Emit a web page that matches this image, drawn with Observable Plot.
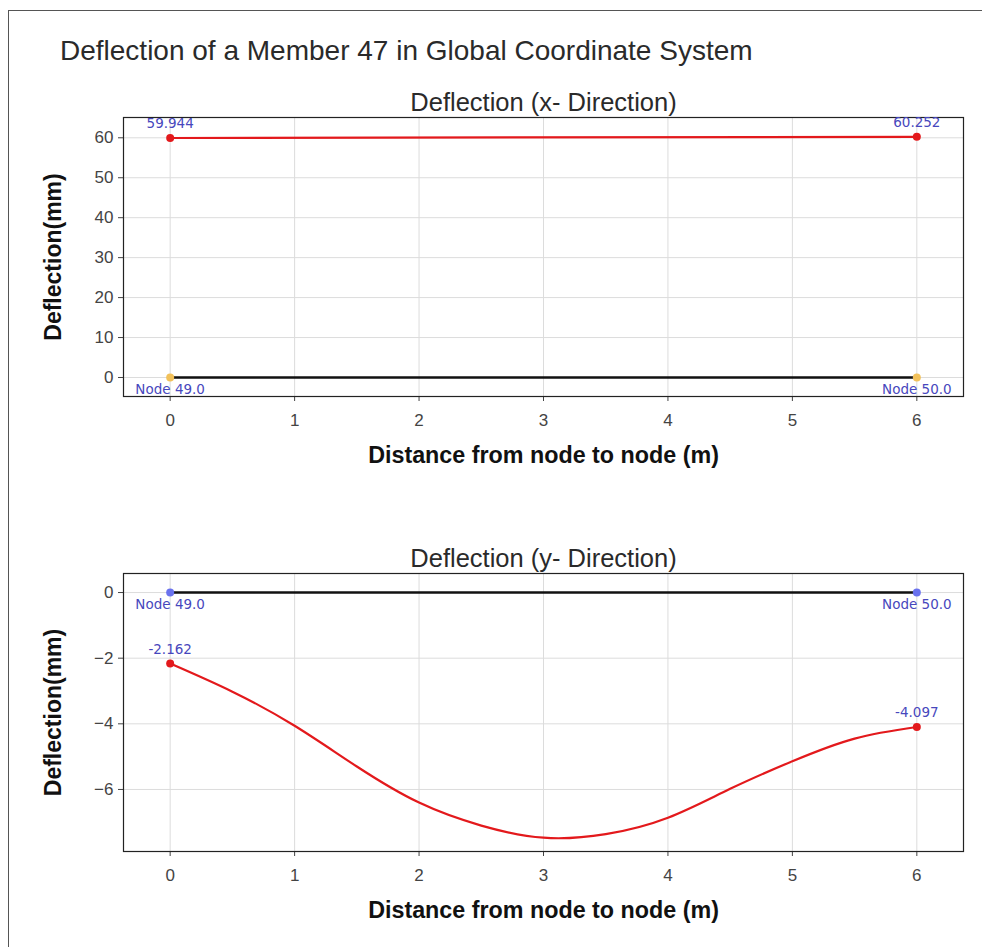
<!DOCTYPE html>
<html>
<head>
<meta charset="utf-8">
<script src="https://cdn.jsdelivr.net/npm/d3@7"></script>
<script src="https://cdn.jsdelivr.net/npm/@observablehq/plot@0.6"></script>
<style>
  html, body { margin: 0; padding: 0; background: #fff; overflow: hidden; }
  #wrap { position: relative; width: 982px; height: 947px; overflow: hidden; }
  #border { position: absolute; left: 8px; top: 10px; width: 1200px; height: 1200px; border: 1px solid #555; box-sizing: border-box; }
  #title { position: absolute; left: 60px; top: 37px; font-family: "Liberation Sans", Arial, sans-serif; font-size: 28px; line-height: 28px; color: #2a2a2a; white-space: nowrap; }
  .panel { position: absolute; left: 0; }
</style>
</head>
<body>
<div id="wrap">
  <div id="border"></div>
  <div id="title">Deflection of a Member 47 in Global Coordinate System</div>
  <div id="p1" class="panel" style="top:80px"></div>
  <div id="p2" class="panel" style="top:530px"></div>
</div>
<script>
// ---- data ----
const chartTitle = "Deflection of a Member 47 in Global Coordinate System";
const panelTitles = ["Deflection (x- Direction)", "Deflection (y- Direction)"];
const xLabel = "Distance from node to node (m)";
const yLabel = "Deflection(mm)";
const xTicks = [0, 1, 2, 3, 4, 5, 6];
const yTicksTop = [0, 10, 20, 30, 40, 50, 60];
const yTicksBottom = [0, -2, -4, -6];
const nodeX = [0, 6];
const nodeLabels = ["Node 49.0", "Node 50.0"];
const memberBase = [0, 0];
const defXValues = [59.944, 60.252];
const defXLabels = ["59.944", "60.252"];
const defYDist = [0, 0.5, 1, 1.5, 2, 2.5, 3, 3.5, 4, 4.5, 5, 5.5, 6];
const defYValues = [-2.162, -3.02, -4.06, -5.30, -6.40, -7.10, -7.47, -7.36, -6.86, -5.98, -5.14, -4.45, -4.097];
const defYEndLabels = ["-2.162", "-4.097"];

// ---- styles ----
const RED = "#e3191c";
const LABEL_BLUE = "#4747bd";
const FONT = "'Liberation Sans', Arial, sans-serif";
const LFONT = "'DejaVu Sans', Verdana, sans-serif";

const base = nodeX.map((x, i) => ({x, y: memberBase[i], label: nodeLabels[i]}));

function panel({yDomain, yTicks, title, lineData, endPts, nodeColor, width = 982, height, marginTop, marginBottom, curve}) {
  return Plot.plot({
    width, height, marginTop, marginBottom, marginLeft: 123, marginRight: 19,
    style: {fontFamily: FONT, fontSize: "17px", background: "transparent", overflow: "visible", color: "#444"},
    x: {domain: [-0.375, 6.375]},
    y: {domain: yDomain},
    marks: [
      Plot.gridX(xTicks, {stroke: "#dcdcdc", strokeOpacity: 1}),
      Plot.gridY(yTicks, {stroke: "#dcdcdc", strokeOpacity: 1}),
      Plot.axisX(xTicks, {tickSize: 5, tickPadding: 12, fontSize: 17, color: "#444", label: null, tickFormat: d => String(d)}),
      Plot.axisY(yTicks, {tickSize: 5, tickPadding: 5, fontSize: 17, color: "#444", label: null, tickFormat: d => d < 0 ? "\u2212" + Math.abs(d) : String(d)}),
      Plot.frame({stroke: "#222", strokeWidth: 1.2}),
      Plot.line(base, {x: "x", y: "y", stroke: "#111", strokeWidth: 2.6}),
      Plot.dot(base, {x: "x", y: "y", r: 4, fill: nodeColor, stroke: null}),
      Plot.line(lineData, {x: "x", y: "y", stroke: RED, strokeWidth: 2.2, curve}),
      Plot.dot(endPts, {x: "x", y: "y", r: 4, fill: RED, stroke: null}),
      Plot.text(endPts, {x: "x", y: "y", text: "label", dy: -14, fill: LABEL_BLUE, fontFamily: LFONT, fontSize: 13.5}),
      Plot.text(base, {x: "x", y: "y", text: "label", dy: 12, fill: LABEL_BLUE, fontFamily: LFONT, fontSize: 13.5}),
      Plot.text([title], {frameAnchor: "top", dy: -15, textAnchor: "middle", lineAnchor: "middle", fontSize: 25.5, fill: "#2a2a2a", fontFamily: FONT}),
      Plot.text([xLabel], {frameAnchor: "bottom", dy: 59, textAnchor: "middle", lineAnchor: "middle", fontSize: 23.3, fontWeight: "bold", fill: "#111", fontFamily: FONT}),
      Plot.text([yLabel], {frameAnchor: "left", dx: -70, rotate: -90, textAnchor: "middle", lineAnchor: "middle", fontSize: 23, fontWeight: "bold", fill: "#111", fontFamily: FONT})
    ]
  });
}

const topLine = nodeX.map((x, i) => ({x, y: defXValues[i]}));
const topEnds = nodeX.map((x, i) => ({x, y: defXValues[i], label: defXLabels[i]}));
const botLine = defYDist.map((x, i) => ({x, y: defYValues[i]}));
const botEnds = nodeX.map((x, i) => ({x, y: defYValues[i === 0 ? 0 : defYValues.length - 1], label: defYEndLabels[i]}));

document.getElementById("p1").append(panel({
  yDomain: [-4.76, 65.08], yTicks: yTicksTop, title: panelTitles[0],
  lineData: topLine, endPts: topEnds, nodeColor: "#f2c15a",
  height: 400, marginTop: 37, marginBottom: 84, curve: "linear"
}));
document.getElementById("p2").append(panel({
  yDomain: [-7.89, 0.58], yTicks: yTicksBottom, title: panelTitles[1],
  lineData: botLine, endPts: botEnds, nodeColor: "#6a72ee",
  height: 417, marginTop: 43, marginBottom: 96, curve: "natural"
}));
</script>
</body>
</html>
